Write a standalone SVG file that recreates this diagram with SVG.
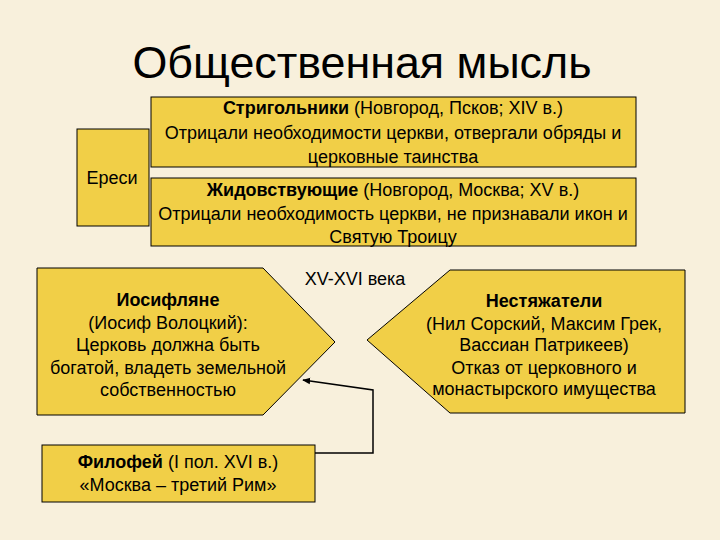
<svg xmlns="http://www.w3.org/2000/svg" width="720" height="540" viewBox="0 0 720 540">
<style>
.box{fill:#F1CF47;stroke:#000;stroke-width:1}
text{font-family:"Liberation Sans",Arial,sans-serif;font-size:18px;fill:#000;text-anchor:middle}
.b{font-weight:bold}
.title{font-size:44px}
.conn{fill:none;stroke:#000;stroke-width:1.5}
</style>
<defs>
<marker id="ah" viewBox="0 0 10 10" refX="9" refY="5" markerWidth="8" markerHeight="8" orient="auto" markerUnits="userSpaceOnUse">
<path d="M0,1 L10,5 L0,9 z" fill="#000"/>
</marker>
</defs>
<rect width="720" height="540" fill="#F8F0DC"/>
<text class="title" x="362" y="78" textLength="459" lengthAdjust="spacingAndGlyphs">Общественная мысль</text>
<text x="355" y="285">XV-XVI века</text>

<g id="eresi">
<rect class="box" x="77" y="129" width="72" height="97"/>
<text x="112" y="184">Ереси</text>
</g>
<g id="strigolniki">
<rect class="box" x="151" y="97" width="485" height="70"/>
<text x="393" y="114"><tspan class="b">Стригольники</tspan> (Новгород, Псков; XIV в.)</text>
<text x="393" y="139">Отрицали необходимости церкви, отвергали обряды и</text>
<text x="393" y="163">церковные таинства</text>
</g>
<g id="zhidovstvuyushchie">
<rect class="box" x="151" y="178" width="485" height="68"/>
<text x="393" y="196"><tspan class="b">Жидовствующие</tspan> (Новгород, Москва; XV в.)</text>
<text x="393" y="220">Отрицали необходимость церкви, не признавали икон и</text>
<text x="393" y="243">Святую Троицу</text>
</g>
<g id="iosiflyane">
<path class="box" d="M37,268 L263,268 L335,342 L263,415 L37,415 Z"/>
<text class="b" x="168" y="306">Иосифляне</text>
<text x="168" y="329">(Иосиф Волоцкий):</text>
<text x="168" y="351">Церковь должна быть</text>
<text x="168" y="374">богатой, владеть земельной</text>
<text x="168" y="396">собственностью</text>
</g>
<g id="nestyazhateli">
<path class="box" d="M367,340 L450,270 L685,270 L685,413 L450,413 Z"/>
<text class="b" x="544" y="307">Нестяжатели</text>
<text x="544" y="330">(Нил Сорский, Максим Грек,</text>
<text x="544" y="351">Вассиан Патрикеев)</text>
<text x="544" y="374">Отказ от церковного и</text>
<text x="544" y="395">монастырского имущества</text>
</g>
<g id="filofey">
<rect class="box" x="42" y="445" width="273" height="57"/>
<text x="178" y="468"><tspan class="b">Филофей</tspan> (I пол. XVI в.)</text>
<text x="178" y="491">«Москва – третий Рим»</text>
</g>
<g id="connectors">
<path class="conn" d="M315,453 L373,453 L373,390 L303,380" marker-end="url(#ah)"/>
</g>
</svg>
